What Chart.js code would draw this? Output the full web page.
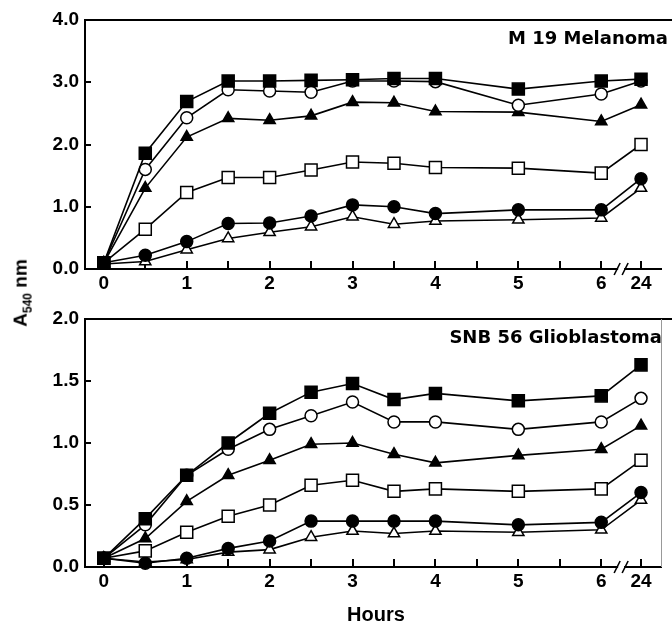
<!DOCTYPE html>
<html>
<head>
<meta charset="utf-8">
<script src="https://cdn.jsdelivr.net/npm/chart.js@4.4.1/dist/chart.umd.min.js"></script>
<style>
  body { margin: 0; background: #fff; }
  #wrap { position: relative; width: 672px; height: 622px; }
  canvas { position: absolute; left: 0; }
  .lbl { position: absolute; color: #000; font-family: "Liberation Sans", Arial, sans-serif; font-weight: bold; white-space: nowrap; }
</style>
</head>
<body>
<div id="wrap">
  <canvas id="topChart" width="672" height="300" style="top:0"></canvas>
  <canvas id="bottomChart" width="672" height="322" style="top:300px"></canvas>
  <div class="lbl" style="left:22px; top:293px; font-size:19px; transform: translate(-50%, -50%) rotate(-90deg);">A<sub style="font-size:12px">540</sub> nm</div>
  <div class="lbl" style="left:376px; top:614px; font-size:20px; transform: translate(-50%, -50%);">Hours</div>
</div>
<script>
//sampling times (hours); 24 h sits after the axis break
const hours = [0, 0.5, 1, 1.5, 2, 2.5, 3, 3.5, 4, 5, 6, 24];
const hourTicks = [0, 0.5, 1, 1.5, 2, 2.5, 3, 3.5, 4, 4.5, 5, 5.5, 6, 24];
const breakPos = 6.48; // where 24 h is placed on the axis

//M 19 Melanoma
const m19FilledSquare = [0.1, 1.86, 2.69, 3.02, 3.02, 3.03, 3.04, 3.06, 3.06, 2.89, 3.02, 3.05];
const m19OpenCircle = [0.1, 1.60, 2.43, 2.88, 2.86, 2.84, 3.02, 3.02, 3.01, 2.63, 2.81, 3.02];
const m19FilledTriangle = [0.1, 1.30, 2.12, 2.42, 2.39, 2.46, 2.68, 2.67, 2.53, 2.52, 2.37, 2.64];
const m19OpenSquare = [0.1, 0.64, 1.23, 1.47, 1.47, 1.59, 1.72, 1.70, 1.63, 1.62, 1.54, 2.00];
const m19FilledCircle = [0.1, 0.22, 0.44, 0.73, 0.74, 0.85, 1.03, 1.00, 0.89, 0.95, 0.95, 1.45];
const m19OpenTriangle = [0.08, 0.12, 0.31, 0.49, 0.59, 0.68, 0.84, 0.72, 0.77, 0.79, 0.82, 1.30];

//SNB 56 Glioblastoma
const snbFilledSquare = [0.07, 0.39, 0.74, 1.00, 1.24, 1.41, 1.48, 1.35, 1.40, 1.34, 1.38, 1.63];
const snbOpenCircle = [0.07, 0.34, 0.74, 0.95, 1.11, 1.22, 1.33, 1.17, 1.17, 1.11, 1.17, 1.36];
const snbFilledTriangle = [0.07, 0.23, 0.53, 0.74, 0.86, 0.99, 1.00, 0.91, 0.84, 0.90, 0.95, 1.14];
const snbOpenSquare = [0.07, 0.13, 0.28, 0.41, 0.50, 0.66, 0.70, 0.61, 0.63, 0.61, 0.63, 0.86];
const snbFilledCircle = [0.07, 0.03, 0.07, 0.15, 0.21, 0.37, 0.37, 0.37, 0.37, 0.34, 0.36, 0.60];
const snbOpenTriangle = [0.07, 0.04, 0.06, 0.12, 0.14, 0.24, 0.29, 0.27, 0.29, 0.28, 0.30, 0.54];

const tickFont = { family: "'Liberation Sans', Arial, sans-serif", size: 19, weight: "bold" };

function xPos(h) {
  return h === 24 ? breakPos : h;
}

function series(values, style, filled) {
  const radius = style === "rect" ? 8.5 : style === "triangle" ? 6.5 : 6;
  return {
    data: values.map((v, i) => ({ x: xPos(hours[i]), y: v })),
    borderColor: "#000",
    borderWidth: 1.6,
    pointStyle: style,
    pointRadius: radius,
    pointBorderWidth: 1.5,
    pointBorderColor: "#000",
    pointBackgroundColor: filled ? "#000" : "#fff",
    tension: 0,
    clip: false,
  };
}

//frame, inward ticks, axis break and the panel name
function framePlugin(cfg) {
  return {
    id: "frame",
    beforeDatasetsDraw(chart) {
      //inward ticks, under the markers
      const { ctx, chartArea: a, scales } = chart;
      ctx.save();
      ctx.fillStyle = "#000";
      for (const h of hourTicks) {
        const px = Math.round(scales.x.getPixelForValue(xPos(h)));
        ctx.fillRect(px - 1, a.bottom - 8, 2, 8);
      }
      for (const t of scales.y.ticks) {
        const py = Math.round(scales.y.getPixelForValue(t.value));
        ctx.fillRect(a.left, py - 1, 6, 2);
      }
      ctx.restore();
    },
    afterDraw(chart) {
      const { ctx, chartArea: a, scales } = chart;
      ctx.save();
      ctx.strokeStyle = "#000";
      ctx.lineCap = "butt";

      //axes and frame
      ctx.lineWidth = 2;
      ctx.beginPath();
      ctx.moveTo(a.left, a.bottom);
      ctx.lineTo(a.right, a.bottom);
      ctx.moveTo(a.left, a.bottom + 1);
      ctx.lineTo(a.left, a.top);
      ctx.lineTo(chart.width, a.top);
      ctx.stroke();
      if (cfg.rightBorder) {
        ctx.strokeStyle = "#999";
        ctx.lineWidth = 1;
        ctx.beginPath();
        ctx.moveTo(a.right - 0.5, a.top);
        ctx.lineTo(a.right - 0.5, a.bottom);
        ctx.stroke();
        ctx.strokeStyle = "#000";
      }

      //axis break between 6 and 24
      const mid = scales.x.getPixelForValue((6 + breakPos) / 2);
      ctx.fillStyle = "#fff";
      ctx.fillRect(mid - 3, a.bottom - 3, 6, 6);
      ctx.lineWidth = 1.6;
      ctx.beginPath();
      ctx.moveTo(mid - 7, a.bottom + 6);
      ctx.lineTo(mid - 1, a.bottom - 6);
      ctx.moveTo(mid + 1, a.bottom + 6);
      ctx.lineTo(mid + 7, a.bottom - 6);
      ctx.stroke();

      //panel name
      ctx.fillStyle = "#000";
      ctx.font = "bold 18px 'DejaVu Sans', sans-serif";
      ctx.textAlign = "right";
      ctx.textBaseline = "alphabetic";
      ctx.fillText(cfg.title, cfg.titleRight, a.top + cfg.titleDrop);
      ctx.restore();
    },
  };
}

function makePanel(id, datasets, cfg) {
  const ctx = document.getElementById(id).getContext("2d");
  return new Chart(ctx, {
    type: "line",
    data: { datasets: datasets },
    plugins: [framePlugin(cfg)],
    options: {
      responsive: false,
      animation: false,
      layout: { padding: { top: cfg.padTop, right: 1, left: 0, bottom: 0 } },
      plugins: { legend: { display: false }, tooltip: { enabled: false } },
      scales: {
        x: {
          type: "linear",
          min: -0.227,
          max: 6.733,
          grid: { display: false, drawTicks: false },
          border: { display: false },
          afterBuildTicks: (s) => {
            s.ticks = hourTicks.map((h) => ({ value: xPos(h) }));
          },
          afterFit: (s) => {
            s.height = cfg.xHeight;
          },
          ticks: {
            autoSkip: false,
            maxRotation: 0,
            padding: 3,
            color: "#000",
            font: tickFont,
            callback: (v) => (v === breakPos ? "24" : Number.isInteger(v) ? String(v) : ""),
          },
        },
        y: {
          min: 0,
          max: cfg.yMax,
          grid: { display: false, drawTicks: false },
          border: { display: false },
          afterFit: (s) => {
            s.width = 85;
          },
          ticks: {
            stepSize: cfg.yStep,
            padding: 6,
            color: "#000",
            font: tickFont,
            callback: (v) => v.toFixed(1),
          },
        },
      },
    },
  });
}

makePanel(
  "topChart",
  [
    series(m19FilledSquare, "rect", true),
    series(m19OpenCircle, "circle", false),
    series(m19FilledTriangle, "triangle", true),
    series(m19OpenSquare, "rect", false),
    series(m19FilledCircle, "circle", true),
    series(m19OpenTriangle, "triangle", false),
  ],
  { title: "M 19 Melanoma", titleRight: 668, titleDrop: 24, padTop: 20, xHeight: 31, yMax: 4, yStep: 1, rightBorder: false }
);

makePanel(
  "bottomChart",
  [
    series(snbFilledSquare, "rect", true),
    series(snbOpenCircle, "circle", false),
    series(snbFilledTriangle, "triangle", true),
    series(snbOpenSquare, "rect", false),
    series(snbFilledCircle, "circle", true),
    series(snbOpenTriangle, "triangle", false),
  ],
  { title: "SNB 56 Glioblastoma", titleRight: 662, titleDrop: 24, padTop: 19, xHeight: 55, yMax: 2, yStep: 0.5, rightBorder: true }
);
</script>
</body>
</html>
